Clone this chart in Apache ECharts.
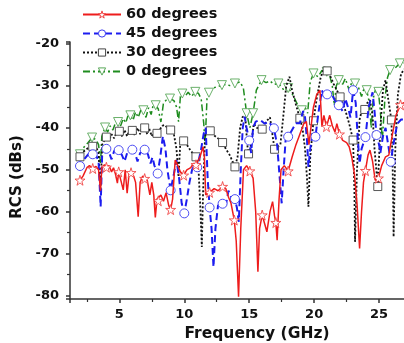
<!DOCTYPE html>
<html>
<head>
<meta charset="utf-8">
<script src="https://cdn.jsdelivr.net/npm/echarts@6/dist/echarts.min.js"></script>
<style>
html,body{margin:0;padding:0;background:#fff;}
#chart{width:404px;height:343px;}
</style>
</head>
<body>
<div id="chart"></div>
<script>
// ---------- data (frequency GHz, RCS dBs) ----------
const seriesNames = ['60 degrees', '45 degrees', '30 degrees', '0 degrees'];

// 60 degrees: curve points and star-marker points
const line60 = [[1.85,-53],[2.2,-51.5],[2.5,-49.5],[2.7,-49],[3.2,-49.2],[3.4,-50],[3.55,-55],[3.65,-49.5],[3.85,-48.8],
[4.2,-49],[4.4,-50.5],[4.55,-49.5],[4.7,-51],[4.85,-53.2],[5.1,-50.3],[5.3,-54.8],[5.45,-50],[5.6,-55.6],[5.75,-51],
[6.1,-51.5],[6.25,-53],[6.45,-61.2],[6.6,-53],[6.8,-51.5],[7.15,-52.5],[7.35,-56],[7.5,-53],[7.65,-56],[7.77,-61.4],[7.9,-57],
[8.2,-56],[8.4,-57.5],[8.6,-55.5],[8.8,-58.5],[9.1,-57],[9.3,-47.7],[9.5,-49],[9.7,-50.5],[10.2,-50],[10.5,-49.5],[10.7,-48.5],
[11.2,-47],[11.45,-44.5],[11.55,-47],[11.65,-56],[12.3,-54.5],[12.6,-55],[13.2,-54.5],[13.4,-56.5],[13.6,-58],
[14.0,-67],[14.18,-80.3],[14.35,-64],[14.56,-50],[14.8,-49],[15.3,-52],[15.5,-60],[15.67,-74.3],[15.8,-64],
[16.2,-63],[16.36,-64.8],[16.6,-60],[16.8,-57.6],[16.95,-61],[17.15,-66.8],[17.3,-57],[17.45,-50],[17.7,-49],
[18.3,-47],[18.6,-44],[18.9,-41.5],[19.2,-39],[19.4,-38.5],[19.6,-44],[19.75,-40],[19.95,-35],[20.2,-32],[20.45,-31],
[20.6,-39.7],[20.75,-37],[21.2,-37],[21.4,-39.5],[21.6,-41],[21.75,-39],[22.2,-43],[22.5,-43.5],[22.7,-44.5],[22.9,-47],
[23.1,-51],[23.3,-58],[23.5,-68.8],[23.65,-60],[23.8,-53],[24.15,-46.5],[24.3,-45.3],[24.5,-48],[24.7,-52.5],
[25.2,-49],[25.5,-46.9],[25.75,-46.5],[26.0,-42],[26.3,-37],[26.9,-34],[27.3,-35]];
const marks60 = [[1.97,-52.5],[2.95,-49.7],[4.0,-49.4],[4.95,-50.5],[5.9,-50.7],[6.95,-52.1],[8.0,-57.4],[8.95,-59.5],
[9.95,-51.3],[10.9,-48.8],[11.95,-55.4],[12.95,-54],[13.85,-62],[15.05,-50.3],[16.0,-60.8],[17.05,-62.6],[18.0,-50.3],
[20.95,-39.7],[21.95,-41.5],[23.95,-50.2],[24.95,-52],[26.65,-34.5]];

// 45 degrees: curve points and circle-marker points
const line45 = [[1.85,-49.6],[2.3,-47.5],[2.6,-46.3],[3.2,-46.5],[3.4,-48],[3.56,-58.8],[3.68,-46],[4.2,-45.8],[4.4,-47.5],[4.6,-45.5],
[5.2,-46.5],[5.4,-48],[5.6,-46],[6.2,-46],[6.4,-48],[6.6,-46],[7.2,-46.3],[7.4,-48.5],[7.55,-47],[7.7,-49],
[8.15,-47],[8.35,-42],[8.55,-45],[8.7,-50],[9.2,-51],[9.4,-47.7],[9.6,-52],[9.8,-58],[10.2,-57],[10.4,-53],[10.6,-50],[10.8,-48.5],
[11.3,-45],[11.5,-41.3],[11.65,-40],[11.8,-52],[12.1,-64],[12.25,-73.2],[12.4,-64],[12.6,-58.5],[13.2,-58.5],[13.4,-55],[13.6,-56.5],
[14.05,-59],[14.2,-62.4],[14.35,-50],[14.5,-40],[14.65,-37.3],[14.8,-40],[15.15,-46],[15.3,-40],[15.5,-38.5],[15.85,-38.1],
[16.2,-39],[16.5,-38.5],[17.15,-44],[17.35,-52],[17.5,-58],[17.65,-50],[17.8,-43],[18.3,-40.5],[18.6,-38.9],[18.9,-38.9],
[19.15,-36],[19.3,-37.5],[19.45,-43],[19.56,-49.3],[19.7,-45],[19.85,-42],[20.35,-36],[20.6,-31],[20.8,-33],
[21.3,-31.5],[21.6,-33.5],[22.2,-36],[22.4,-33],[22.6,-35],[22.8,-37.5],[23.2,-34],[23.35,-42],[23.5,-48.5],[23.65,-45],
[24.2,-35],[24.5,-31.5],[24.65,-36],[25.0,-44],[25.1,-46],[25.3,-42],[25.5,-40],[25.7,-44],[26.1,-44],[26.4,-39],[26.7,-38],[27.2,-38]];
const marks45 = [[1.97,-49.1],[2.95,-46.3],[4.0,-45],[4.95,-45.3],[6.0,-45.2],[6.95,-45.2],[7.95,-50.9],[8.95,-54.9],
[10.0,-60.4],[11.0,-49.4],[11.95,-59],[12.95,-58.1],[13.9,-57],[15.0,-43],[16.9,-40.1],[18.0,-42.1],[20.1,-42.1],
[21.0,-32],[21.9,-34.6],[23.0,-31],[23.95,-42.2],[24.8,-41.7],[25.9,-48.1]];

// 30 degrees: curve points and square-marker points
const line30 = [[1.85,-47.2],[2.3,-45.5],[2.6,-44.8],[3.2,-44.5],[3.4,-46],[3.55,-55],[3.68,-44],[4.2,-43],[4.4,-41.5],[4.6,-42.5],[4.8,-41],
[5.2,-42],[5.4,-40.5],[5.6,-42],[5.8,-40.3],[6.2,-41.8],[6.4,-40],[6.6,-41.5],[6.75,-39.8],[7.15,-41.5],[7.3,-40.2],[7.5,-42],[7.7,-40.5],
[8.1,-40.5],[8.3,-39.5],[8.5,-39.3],[8.7,-40],[9.2,-41.5],[9.4,-45],[9.56,-51.7],[9.7,-43],[10.2,-44],[10.5,-45.5],
[11.1,-50],[11.25,-60],[11.35,-68.4],[11.45,-55],[11.6,-42],[11.75,-40.5],[12.3,-41.8],[12.6,-42.5],[13.2,-45],[13.5,-46.5],
[14.1,-47],[14.3,-40],[14.5,-37.3],[14.7,-37.5],[14.85,-44],[15.15,-44],[15.35,-39],[15.6,-40],[16.3,-38.5],[16.6,-37.5],[16.75,-37.3],
[17.2,-44.5],[17.4,-44],[17.6,-38],[17.85,-30],[18.1,-27.8],[18.3,-31],[18.6,-34.5],[19.1,-40],[19.3,-45],[19.45,-52],[19.56,-58.8],[19.7,-47],
[20.2,-33],[20.5,-28],[20.8,-25.5],[21.3,-28],[21.5,-29.5],[21.75,-31],[22.4,-35.8],[22.7,-39],[23.1,-55],[23.15,-67.2],[23.3,-50],
[23.5,-38],[23.7,-35.5],[24.1,-34],[24.3,-33.4],[24.5,-37],[24.65,-45],[25.1,-40],[25.3,-31],[25.5,-28.6],[25.7,-33],
[26.05,-50],[26.12,-66],[26.25,-45],[26.45,-32],[26.7,-27],[27.1,-25.5]];
const marks30 = [[1.97,-46.9],[2.95,-44.4],[4.0,-42.2],[5.0,-40.8],[6.0,-40.6],[6.95,-40],[7.9,-41.3],[8.95,-40.5],
[9.95,-43.1],[10.9,-46.9],[12.0,-40.7],[12.95,-43.5],[13.9,-49.3],[14.95,-46.2],[16.0,-40.3],[16.95,-45.1],[18.9,-37.7],
[19.95,-38.3],[21.0,-26.4],[22.0,-32.6],[23.0,-42.9],[23.9,-35.6],[24.9,-54],[25.95,-38.1]];

// 0 degrees: curve points and triangle-marker points
const line0 = [[1.85,-45.8],[2.3,-44.5],[2.6,-43.5],[3.2,-42.8],[3.4,-44],[3.55,-48.5],[3.65,-42],[4.1,-41],[4.3,-39.5],[4.5,-40.5],[4.7,-38.8],
[5.1,-39.5],[5.3,-37.8],[5.5,-38.8],[5.65,-37.2],[6.05,-38.2],[6.25,-36.2],[6.45,-37.5],[6.65,-35.8],[7.05,-37.5],[7.25,-35.2],[7.45,-36.8],[7.6,-34.6],
[8.0,-35.5],[8.2,-38.6],[8.4,-34],[8.6,-33.4],[9.2,-33.5],[9.4,-35],[9.56,-38.5],[9.7,-32.5],[10.1,-32.3],[10.3,-31.5],[10.55,-32.5],
[11.1,-31.8],[11.3,-33],[11.5,-39],[11.6,-44],[11.75,-33],[12.2,-30.5],[12.5,-30.2],[13.2,-29.6],[13.5,-29.9],[14.3,-29],[14.55,-30.5],
[15.05,-40],[15.55,-31],[16.3,-29.2],[16.6,-28.8],[16.9,-29.6],[17.5,-30.2],[17.7,-31.2],[18.25,-31.5],[18.5,-33],[18.8,-35],
[19.3,-35],[19.5,-36.5],[19.7,-29],[20.3,-27.8],[20.6,-26.3],[21.2,-27.5],[21.4,-30],[21.55,-34.6],[21.7,-30],[22.2,-29.6],[22.4,-28.2],
[22.7,-31],[22.95,-28.6],[23.4,-30.2],[23.65,-32.5],[23.85,-30.5],[24.25,-34],[24.4,-40],[24.55,-33],[24.75,-30.5],[25.1,-36],[25.25,-43],
[25.45,-33],[25.65,-28],[26.2,-25.8],[26.9,-24.5],[27.3,-25]];
const marks0 = [[1.97,-46.3],[2.9,-42.3],[3.9,-39.9],[4.9,-38.6],[5.85,-37],[6.85,-35.8],[7.8,-34.6],[8.9,-33],[9.85,-31.8],
[10.85,-31.4],[11.9,-31.6],[12.9,-29.8],[13.9,-29.4],[14.8,-36.5],[15.3,-36.5],[15.95,-28.6],[17.25,-29.4],[18.0,-30.5],
[19.05,-35.8],[19.95,-27],[20.97,-26.6],[21.9,-28.6],[23.15,-29.4],[24.05,-31],[24.95,-31.4],[25.85,-26.2],[26.6,-24.6]];

// ---------- build ----------
function build(line, marks) {
  const pts = line.map(p => ({ value: p, symbol: 'none' }))
    .concat(marks.map(p => ({ value: p })));
  pts.sort((a, b) => a.value[0] - b.value[0]);
  return pts;
}
const STAR = 'path://M50,0 L61,35 L98,35 L68,57 L79,91 L50,70 L21,91 L32,57 L2,35 L39,35 Z';
const FONT = 'DejaVu Sans';
const markColors = { '60 degrees': '#f04848', '45 degrees': '#3a3af0', '30 degrees': '#444444', '0 degrees': '#5aa85a' };

function mk(name, line, marks, color, type, width, symbol, size, rotate, z) {
  return {
    name: name, type: 'line', data: build(line, marks), z: z,
    symbol: symbol, symbolSize: size, symbolRotate: rotate || 0, showSymbol: true, showAllSymbol: true,
    color: color,
    lineStyle: { color: color, width: width, type: type },
    itemStyle: { color: '#fff', borderColor: markColors[name], borderWidth: 0.9 },
    emphasis: { disabled: true }
  };
}

const chart = echarts.init(document.getElementById('chart'), null, { renderer: 'canvas' });
chart.setOption({
  animation: false,
  backgroundColor: '#fff',
  grid: { left: 70, top: 42, bottom: 44, right: -40, outerBoundsMode: 'none', containLabel: false },
  legend: {
    data: seriesNames.map(n => ({ name: n, itemStyle: { color: '#fff', borderColor: markColors[n], borderWidth: 1 } })),
    orient: 'vertical', left: 77, top: 2, itemGap: 4,
    itemWidth: 38, itemHeight: 9,
    textStyle: { fontFamily: FONT, fontWeight: 'bold', fontSize: 14.5, color: '#111' }
  },
  xAxis: {
    type: 'value', min: 1.2, max: 30,
    name: 'Frequency (GHz)', nameLocation: 'middle', nameGap: 25,
    nameTextStyle: { fontFamily: FONT, fontWeight: 'bold', fontSize: 15.5, color: '#111' },
    axisLine: { lineStyle: { color: '#333', width: 1.5 } },
    axisTick: { show: true, length: 4, lineStyle: { color: '#333', width: 1.5 } },
    minorTick: { show: true, splitNumber: 2, length: 3, lineStyle: { color: '#333', width: 1.2 } },
    axisLabel: { showMinLabel: false, showMaxLabel: false, margin: 9, fontFamily: FONT, fontWeight: 'bold', fontSize: 13, color: '#111' },
    splitLine: { show: false }
  },
  yAxis: {
    type: 'value', min: -80.84, max: -19.5,
    name: 'RCS (dBs)', nameLocation: 'middle', nameGap: 34,
    nameTextStyle: { fontFamily: FONT, fontWeight: 'bold', fontSize: 15, color: '#111', padding: [0, 13, 0, 0] },
    axisLine: { show: true, lineStyle: { color: '#333', width: 1.5 } },
    axisTick: { show: true, length: 4, lineStyle: { color: '#333', width: 1.5 } },
    minorTick: { show: true, splitNumber: 2, length: 3, lineStyle: { color: '#333', width: 1.2 } },
    axisLabel: { showMinLabel: false, showMaxLabel: false, margin: 11, fontFamily: FONT, fontWeight: 'bold', fontSize: 13, color: '#111' },
    splitLine: { show: false }
  },
  series: [
    mk('0 degrees', line0, marks0, '#1e8c1e', [7, 3, 2, 3], 1.5, 'triangle', 9, 180, 2),
    mk('30 degrees', line30, marks30, '#111111', [2, 2], 1.8, 'rect', 8, 0, 3),
    mk('45 degrees', line45, marks45, '#1c1cf0', [7, 4], 2, 'circle', 9, 0, 4),
    mk('60 degrees', line60, marks60, '#ee1c1c', 'solid', 1.5, STAR, 10, 0, 5)
  ]
});
</script>
</body>
</html>
